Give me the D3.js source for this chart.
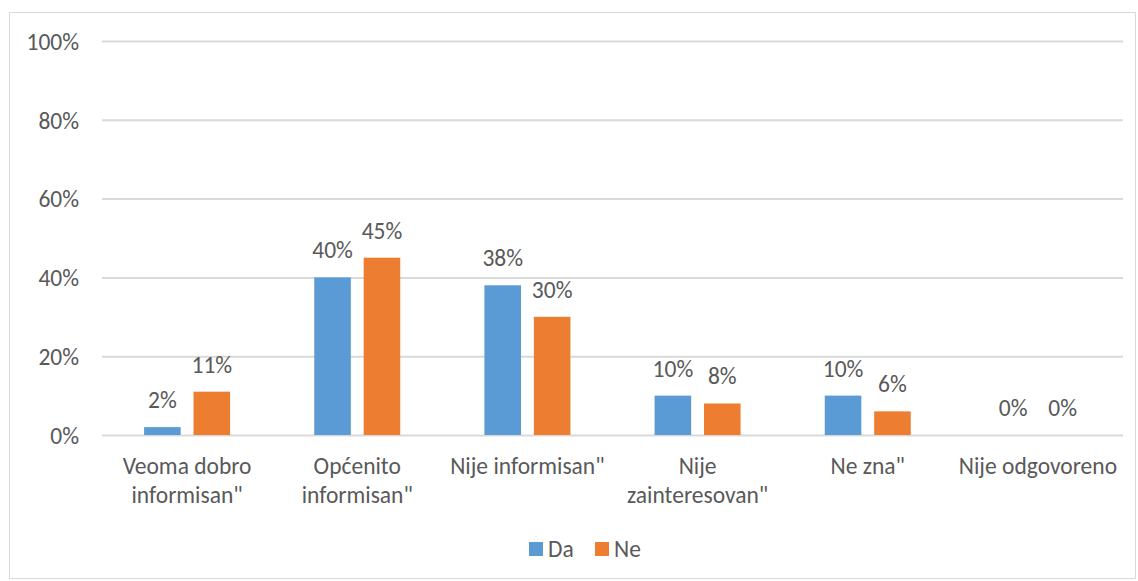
<!DOCTYPE html>
<html>
<head>
<meta charset="utf-8">
<script src="https://cdn.jsdelivr.net/npm/d3@7/dist/d3.min.js"></script>
<style>
  html, body { margin: 0; padding: 0; background: #fff; }
  svg text { font-family: Carlito, Lato, "Liberation Sans", sans-serif; fill: #595959; }
</style>
</head>
<body>
<svg id="chart" width="1138" height="581"></svg>
<script>
// Survey answers, share of respondents per answer group
const categories = [
  "Veoma dobro informisan\"",
  "Općenito informisan\"",
  "Nije informisan\"",
  "Nije zainteresovan\"",
  "Ne zna\"",
  "Nije odgovoreno"
];
const seriesNames = ["Da", "Ne"];
const valuesDa = [0.02, 0.40, 0.38, 0.10, 0.10, 0.00];
const valuesNe = [0.11, 0.45, 0.30, 0.08, 0.06, 0.00];
const yTicks = [0, 0.2, 0.4, 0.6, 0.8, 1.0];
const colors = ["#5B9BD5", "#ED7D31"];

const seriesValues = [valuesDa, valuesNe];
const svg = d3.select("#chart");
const FS = 23.5;

// Outer chart frame
svg.append("rect")
  .attr("x", 9.5).attr("y", 12.5)
  .attr("width", 1126).attr("height", 566)
  .attr("fill", "#fff").attr("stroke", "#D9D9D9").attr("stroke-width", 1);

const plot = { left: 102, right: 1123, top: 41, bottom: 435 };

const x = d3.scaleBand()
  .domain(categories)
  .range([plot.left, plot.right])
  .paddingInner(0).paddingOuter(0);

const xInner = d3.scaleBand()
  .domain(seriesNames)
  .range([0, 86])
  .paddingInner(0.26);

const y = d3.scaleLinear().domain([0, 1]).range([plot.bottom, plot.top]);

// Gridlines + y labels
const yAxis = d3.axisLeft(y)
  .tickValues(yTicks)
  .tickFormat(d3.format(".0%"))
  .tickSize(-(plot.right - plot.left))
  .tickPadding(23);

const gy = svg.append("g")
  .attr("transform", `translate(${plot.left},0)`)
  .call(yAxis);
gy.select(".domain").remove();
gy.selectAll(".tick line").attr("stroke", "#D9D9D9").attr("stroke-width", 2);
gy.selectAll(".tick text")
  .attr("font-size", FS)
  .attr("fill", "#595959")
  .attr("dy", "0.35em")
  .style("font-family", "Carlito, Lato, 'Liberation Sans', sans-serif");

// Bars
const groupOffset = (x.bandwidth() - 86) / 2;
const groups = svg.append("g").selectAll("g")
  .data(categories)
  .join("g")
  .attr("transform", d => `translate(${x(d) + groupOffset},0)`);

seriesNames.forEach((s, si) => {
  groups.append("rect")
    .attr("x", xInner(s))
    .attr("width", xInner.bandwidth())
    .attr("y", (d, i) => y(seriesValues[si][i]))
    .attr("height", (d, i) => y(0) - y(seriesValues[si][i]))
    .attr("fill", colors[si]);

  groups.append("text")
    .attr("x", xInner(s) + xInner.bandwidth() / 2)
    .attr("y", (d, i) => y(seriesValues[si][i]) - 19)
    .attr("text-anchor", "middle")
    .attr("font-size", FS)
    .attr("fill", "#404040")
    .text((d, i) => d3.format(".0%")(seriesValues[si][i]));
});

// Category labels, wrapped to the band width
const catLabels = svg.append("g").selectAll("text")
  .data(categories)
  .join("text")
  .attr("x", d => x(d) + x.bandwidth() / 2)
  .attr("y", 474)
  .attr("text-anchor", "middle")
  .attr("font-size", FS);

catLabels.each(function(d) {
  const t = d3.select(this);
  const words = d.split(" ");
  const maxW = x.bandwidth() - 4;
  let lines = [];
  let line = [];
  const probe = t.append("tspan");
  words.forEach(w => {
    const trial = line.concat([w]).join(" ");
    probe.text(trial);
    if (probe.node().getComputedTextLength() > maxW && line.length) {
      lines.push(line.join(" "));
      line = [w];
    } else {
      line.push(w);
    }
  });
  lines.push(line.join(" "));
  probe.remove();
  lines.forEach((l, li) => {
    t.append("tspan")
      .attr("x", x(d) + x.bandwidth() / 2)
      .attr("dy", li === 0 ? 0 : 29)
      .text(l);
  });
});

// Legend
const legend = svg.append("g");
const legendX = [529, 595];
seriesNames.forEach((s, si) => {
  legend.append("rect")
    .attr("x", legendX[si]).attr("y", 542)
    .attr("width", 14).attr("height", 14)
    .attr("fill", colors[si]);
  legend.append("text")
    .attr("x", legendX[si] + 19).attr("y", 557)
    .attr("font-size", FS)
    .text(s);
});
</script>
</body>
</html>
